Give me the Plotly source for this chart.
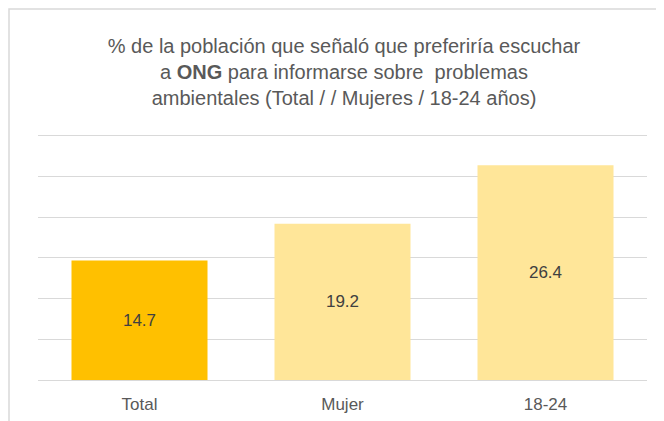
import plotly.graph_objects as go

categories = ["Total", "Mujer", "18-24"]
values = [14.7, 19.2, 26.4]
bar_colors = ["#FFC000", "#FFE699", "#FFE699"]
title_text = ("% de la población que señaló que preferiría escuchar<br>"
              "a <b>ONG</b> para informarse sobre  problemas<br>"
              "ambientales (Total / / Mujeres / 18-24 años)")

FONT = "Liberation Sans, Arial, sans-serif"

fig = go.Figure()
fig.add_trace(go.Bar(
    x=categories, y=values,
    marker=dict(color=bar_colors, line=dict(width=0)),
    text=[f"{v:.1f}" for v in values],
    textposition="inside", insidetextanchor="middle",
    textfont=dict(family=FONT, size=17, color="#404040"),
    hoverinfo="skip",
))

# page is offset by 8px (default body margin); figure coords = page - 8
W, H = 656, 413
ml, mr, mt, mb = 30, 17, 124, 41
pw = W - ml - mr
ph = H - mt - mb

fig.update_layout(
    width=W, height=H,
    margin=dict(l=ml, r=mr, t=mt, b=mb, autoexpand=False),
    paper_bgcolor="white", plot_bgcolor="white",
    bargap=0.33,
    showlegend=False,
    title=dict(text=title_text, x=336 / W, xanchor="center", y=1 - 45 / H, yanchor="middle",
               font=dict(family=FONT, size=20, color="#595959")),
    xaxis=dict(showgrid=False, showline=False, zeroline=False, ticks="",
               ticklabelstandoff=12, automargin=False,
               tickfont=dict(family=FONT, size=17, color="#595959")),
    yaxis=dict(range=[0, 30.49], tickvals=[0, 5, 10, 15, 20, 25, 30], showgrid=True,
               gridcolor="#D9D9D9", gridwidth=1.3, automargin=False,
               showticklabels=False, zeroline=True, zerolinecolor="#D9D9D9", zerolinewidth=1.3,
               showline=False, ticks=""),
    font=dict(family=FONT),
    shapes=[dict(type="rect", xref="paper", yref="paper",
                 x0=(1 - ml) / pw, x1=(W + 20 - ml) / pw,
                 y0=-(mb + 20) / ph, y1=1 + (mt - 1) / ph,
                 line=dict(color="#D9D9D9", width=1.5), layer="below")],
)

fig.write_html("out.html")
